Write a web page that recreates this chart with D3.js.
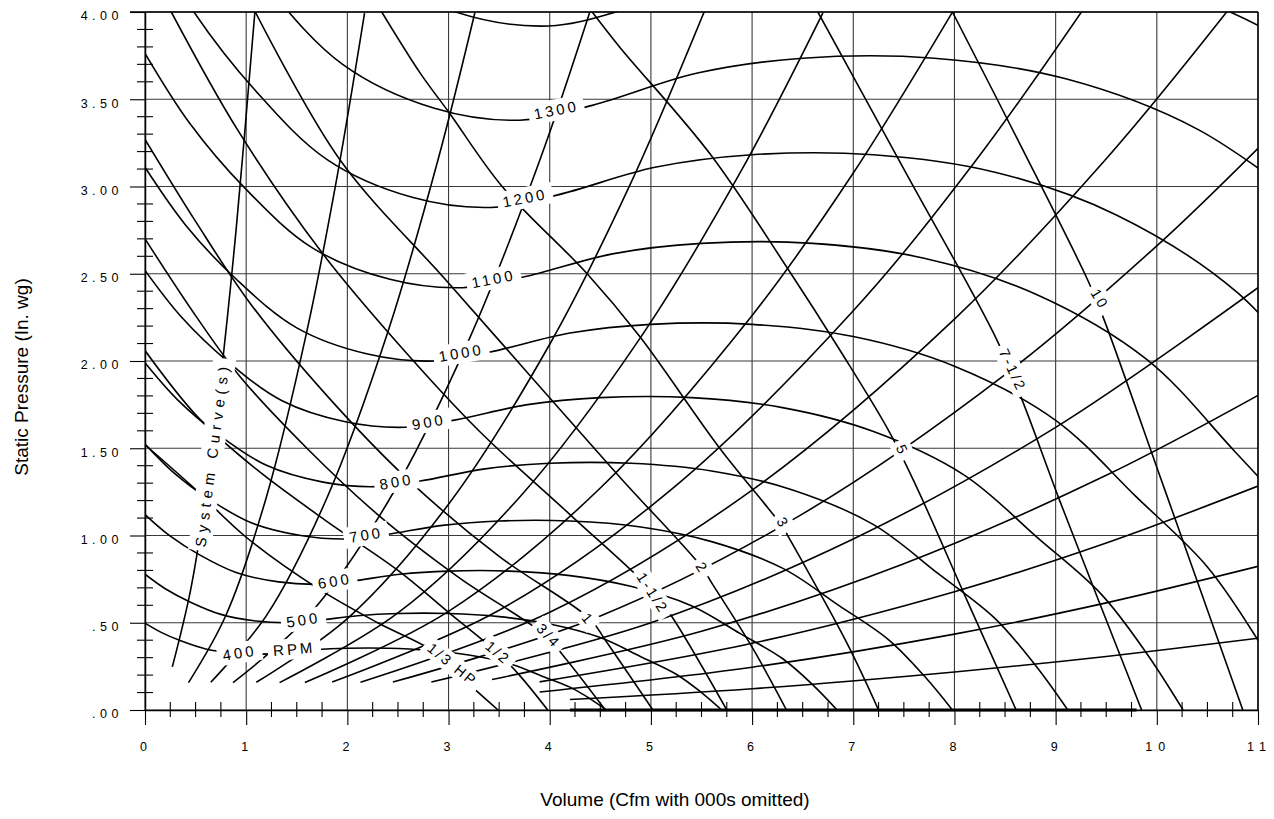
<!DOCTYPE html>
<html><head><meta charset="utf-8">
<script src="https://cdn.jsdelivr.net/npm/d3@7"></script>
<style>
body{margin:0;background:#fff;}
text{font-family:"Liberation Sans",Arial,Helvetica,sans-serif;fill:#000;}
</style></head><body>
<svg id="chart" width="1274" height="819"></svg>
<script>
// ---------------- DATA ----------------
const xTicks = [0,1,2,3,4,5,6,7,8,9,10,11];
const xTickLabels = ["0","1","2","3","4","5","6","7","8","9","10","11"];
const yTicks = [0,0.5,1,1.5,2,2.5,3,3.5,4];
const yTickLabels = [".00",".50","1.00","1.50","2.00","2.50","3.00","3.50","4.00"];

// Fan RPM curves: [volume (000 cfm), static pressure (in. wg)]
const rpm400 = [[0,0.498],[0.16,0.445],[0.36,0.395],[0.60,0.350],[0.88,0.326],[1.14,0.320],[1.36,0.328],[1.68,0.346],[2.00,0.354],[2.40,0.354],[2.80,0.342],[3.20,0.315],[3.60,0.266],[3.92,0.195],[4.20,0.131],[4.40,0.064],[4.56,0]];
const rpm500 = [[0,0.778],[0.2,0.695],[0.45,0.618],[0.75,0.548],[1.1,0.510],[1.425,0.500],[1.7,0.513],[2.1,0.540],[2.5,0.553],[3.0,0.553],[3.5,0.535],[4.0,0.493],[4.5,0.415],[4.9,0.305],[5.25,0.205],[5.5,0.100],[5.7,0]];
const rpm600 = [[0,1.120],[0.24,1.001],[0.54,0.889],[0.9,0.788],[1.32,0.734],[1.71,0.720],[2.04,0.738],[2.52,0.778],[3.0,0.796],[3.6,0.796],[4.2,0.770],[4.8,0.709],[5.4,0.598],[5.88,0.439],[6.3,0.295],[6.6,0.144],[6.84,0]];
const rpm700 = [[0,1.524],[0.28,1.362],[0.63,1.210],[1.05,1.073],[1.54,1.000],[2.0,0.980],[2.38,1.005],[2.94,1.058],[3.5,1.083],[4.2,1.083],[4.9,1.049],[5.6,0.965],[6.3,0.813],[6.86,0.598],[7.35,0.402],[7.7,0.196],[7.98,0]];
const rpm800 = [[0,1.990],[0.32,1.779],[0.72,1.581],[1.2,1.402],[1.76,1.306],[2.28,1.280],[2.72,1.312],[3.36,1.382],[4.0,1.414],[4.8,1.414],[5.6,1.370],[6.4,1.261],[7.2,1.062],[7.84,0.781],[8.4,0.525],[8.8,0.256],[9.12,0]];
const rpm900 = [[0,2.519],[0.36,2.252],[0.81,2.001],[1.35,1.774],[1.98,1.652],[2.565,1.620],[3.06,1.661],[3.78,1.750],[4.5,1.790],[5.4,1.790],[6.3,1.733],[7.2,1.596],[8.1,1.345],[8.82,0.988],[9.45,0.664],[9.9,0.324],[10.26,0]];
const rpm1000 = [[0,3.11],[0.4,2.78],[0.9,2.47],[1.5,2.19],[2.2,2.04],[2.85,2.00],[3.4,2.05],[4.2,2.16],[5.0,2.21],[6.0,2.21],[7.0,2.14],[8.0,1.97],[9.0,1.66],[9.8,1.22],[10.5,0.82],[11.0,0.40],[11.4,0]];
const rpm1100 = [[0,3.763],[0.44,3.364],[0.99,2.989],[1.65,2.650],[2.42,2.468],[3.135,2.420],[3.74,2.481],[4.62,2.614],[5.5,2.674],[6.6,2.674],[7.7,2.589],[8.8,2.384],[9.9,2.009],[10.78,1.476],[11.55,0.992]];
const rpm1200 = [[0,4.478],[0.48,4.003],[1.08,3.557],[1.8,3.154],[2.64,2.938],[3.42,2.880],[4.08,2.952],[5.04,3.110],[6.0,3.182],[7.2,3.182],[8.4,3.082],[9.6,2.837],[10.8,2.390],[11.76,1.757]];
const rpm1300 = [[0,5.256],[0.52,4.698],[1.17,4.174],[1.95,3.701],[2.86,3.448],[3.705,3.380],[4.42,3.465],[5.46,3.650],[6.5,3.735],[7.8,3.735],[9.1,3.617],[10.4,3.329],[11.7,2.805]];
const rpm1400 = [[0,6.096],[0.56,5.449],[1.26,4.841],[2.1,4.292],[3.08,3.998],[3.99,3.920],[4.76,4.018],[5.88,4.234],[7.0,4.332],[8.4,4.332],[9.8,4.194],[11.2,3.861],[12.6,3.254]];

// System curves
const sys1  = [[0.27,0.247],[0.45,0.686],[0.6,1.22],[0.75,1.91],[0.9,2.75],[1.086,4.0]];
const sys2  = [[0.43,0.157],[0.8,0.543],[1.2,1.221],[1.6,2.171],[1.9,3.061],[2.17,3.993]];
const sys3  = [[0.65,0.159],[1.2,0.541],[1.8,1.218],[2.4,2.166],[2.9,3.162],[3.26,3.996]];
const sys4  = [[0.87,0.157],[1.6,0.530],[2.4,1.192],[3.2,2.120],[3.9,3.148],[4.40,4.007]];
const sys5  = [[1.1,0.159],[2.0,0.524],[3.0,1.179],[4.0,2.096],[4.8,3.018],[5.53,4.006]];
const sys6  = [[1.33,0.157],[2.5,0.556],[3.7,1.218],[4.9,2.137],[5.9,3.098],[6.70,3.995]];
const sys7  = [[1.58,0.157],[3.0,0.565],[4.5,1.272],[6.0,2.261],[7.0,3.077],[7.98,3.999]];
const sys8  = [[1.85,0.160],[3.5,0.572],[5.2,1.263],[7.0,2.288],[8.2,3.140],[9.26,4.004]];
const sys9  = [[2.13,0.159],[4.0,0.560],[6.0,1.260],[8.0,2.240],[9.5,3.159],[10.69,4.0]];
const sys10 = [[2.45,0.160],[4.5,0.539],[6.5,1.124],[8.5,1.922],[10.0,2.66],[11.0,3.219]];
const sys11 = [[2.83,0.160],[5.0,0.5],[7.0,0.98],[9.0,1.62],[11.0,2.42]];
const sys12 = [[3.43,0.175],[5.5,0.451],[7.5,0.838],[9.5,1.345],[11.0,1.803]];
const sys13 = [[3.9,0.161],[6.0,0.382],[8.0,0.678],[9.5,0.957],[11.0,1.283]];
const sys14 = [[3.9,0.103],[6.0,0.245],[8.0,0.435],[9.5,0.614],[11.0,0.823]];
const sys15 = [[4.2,0.060],[6.0,0.122],[8.0,0.218],[9.5,0.307],[11.0,0.411]];

// Brake horsepower lines
const hp13  = [[0,1.52],[0.45,1.29],[1.0,0.99],[1.7,0.70],[2.3,0.50],[2.87,0.33],[3.2,0.15],[3.49,0]];
const hp12  = [[0,2.06],[0.52,1.68],[1.1,1.38],[1.8,1.08],[2.5,0.80],[3.0,0.56],[3.48,0.33],[3.7,0.20],[3.98,0]];
const hp34  = [[0,2.70],[0.5,2.26],[0.94,1.91],[1.6,1.50],[2.3,1.12],[3.1,0.76],[3.95,0.43],[4.15,0.30],[4.55,0]];
const hp1   = [[0,3.27],[0.5,2.80],[1.04,2.33],[1.8,1.80],[2.6,1.32],[3.5,0.88],[4.4,0.52],[4.55,0.40],[5.02,0]];
const hp112 = [[0.26,4.0],[0.92,3.32],[1.75,2.62],[2.5,2.10],[3.3,1.60],[4.2,1.12],[5.0,0.69],[5.19,0.55],[5.75,0]];
const hp2   = [[1.09,4.0],[1.93,3.15],[2.98,2.46],[3.8,1.92],[4.7,1.33],[5.5,0.82],[5.61,0.72],[6.0,0.36],[6.34,0]];
const hp3   = [[2.34,4.0],[2.72,3.65],[3.01,3.42],[3.53,3.0],[4.37,2.5],[4.89,2.14],[5.68,1.5],[6.3,1.05],[6.39,0.96],[6.94,0.38],[7.25,0]];
const hp5   = [[4.42,4.0],[4.69,3.8],[5.58,3.19],[6.34,2.54],[6.87,2.06],[7.36,1.59],[7.64,1.26],[8.1,0.66],[8.61,0]];
const hp712 = [[6.65,4.0],[7.5,3.1],[8.42,2.12],[8.68,1.76],[9.04,1.20],[9.85,0]];
const hp10  = [[7.98,4.0],[8.65,3.24],[9.32,2.46],[9.47,2.25],[10.08,1.26],[10.85,0]];

// Segment of the baseline drawn heavy (curves running along the axis)
const heavyBase = [[4.2,0],[9.8,0]];

// Labels
const rpmLabelText = ["400","RPM","500","600","700","800","900","1000","1100","1200","1300"];
const rpmLabelQ    = [0.92,1.46,1.55,1.86,2.17,2.47,2.79,3.11,3.43,3.74,4.05];
const rpmLabelP    = [0.327,0.35,0.516,0.739,1.003,1.307,1.65,2.046,2.47,2.934,3.438];
const rpmLabelRot  = [-9,-5,-9,-9,-10,-10,-10,-10,-11,-11,-11];

const hpLabelText = ["1/3  HP","1/2","3/4","1","1-1/2","2","3","5","7-1/2","10"];
const hpLabelQ    = [3.03,3.48,3.98,4.37,5.01,5.5,6.30,7.48,8.57,9.43];
const hpLabelP    = [0.264,0.332,0.43,0.527,0.676,0.82,1.077,1.496,1.954,2.36];
const hpLabelRot  = [39,40,47,50,57,57,60,65,65,59];

const sysLabelText = "System Curve(s)";
const sysLabelQ = 0.66, sysLabelP = 1.45, sysLabelRot = -82.5;

// ---------------- CHART ----------------
const svg = d3.select("#chart");
const x = d3.scaleLinear().domain([0,11]).range([145,1258]);
const y = d3.scaleLinear().domain([0,4]).range([710,12]);
const gridColor = "#3a3a3a";

// grid
svg.append("g").selectAll("line").data(yTicks).join("line")
  .attr("x1", x(0)).attr("x2", x(11))
  .attr("y1", d=>y(d)).attr("y2", d=>y(d))
  .attr("stroke", gridColor).attr("stroke-width", 1.1);
svg.append("g").selectAll("line").data(xTicks).join("line")
  .attr("x1", d=>x(d)).attr("x2", d=>x(d))
  .attr("y1", y(4)).attr("y2", y(0))
  .attr("stroke", gridColor).attr("stroke-width", 1.1);

// minor ticks
const yMinor = d3.range(0, 4.0001, 0.1).filter(v => Math.abs(v*2 - Math.round(v*2)) > 1e-6);
svg.append("g").selectAll("line").data(yMinor).join("line")
  .attr("x1", x(0)-8).attr("x2", x(0)+8)
  .attr("y1", d=>y(d)).attr("y2", d=>y(d))
  .attr("stroke","#000").attr("stroke-width",1.1);
const xMinor = d3.range(0, 11.0001, 0.25).filter(v => Math.abs(v - Math.round(v)) > 1e-6);
svg.append("g").selectAll("line").data(xMinor).join("line")
  .attr("x1", d=>x(d)).attr("x2", d=>x(d))
  .attr("y1", y(0)-8).attr("y2", y(0)+7)
  .attr("stroke","#000").attr("stroke-width",1.1);

// axes
const yAxis = svg.append("g").attr("transform",`translate(${x(0)},0)`)
  .call(d3.axisLeft(y).tickValues(yTicks).tickFormat((d,i)=>yTickLabels[i]).tickSize(15).tickSizeOuter(0).tickPadding(8));
yAxis.select(".domain").attr("stroke","#000").attr("stroke-width",1.5);
yAxis.selectAll(".tick line").attr("stroke","#000").attr("stroke-width",1.1);
yAxis.selectAll(".tick text").style("font-size","12.5px").style("letter-spacing","4.5px")
  .attr("dy","0.62em").attr("x",-22).attr("fill","#000");

const xAxis = svg.append("g").attr("transform",`translate(0,${y(0)})`)
  .call(d3.axisBottom(x).tickValues(xTicks).tickFormat((d,i)=>xTickLabels[i]).tickSize(15).tickSizeOuter(0).tickPadding(17));
xAxis.select(".domain").attr("stroke","#000").attr("stroke-width",1.5);
xAxis.selectAll(".tick line").attr("stroke","#000").attr("stroke-width",1.1);
xAxis.selectAll(".tick text").style("font-size","12.5px").style("letter-spacing","6px")
  .attr("dx","1px").attr("fill","#000");

// frame top & right
svg.append("line").attr("x1",x(0)-15).attr("x2",x(11)).attr("y1",y(4)).attr("y2",y(4)).attr("stroke","#000").attr("stroke-width",1.4);
svg.append("line").attr("x1",x(11)).attr("x2",x(11)).attr("y1",y(4)).attr("y2",y(0)).attr("stroke","#000").attr("stroke-width",1.4);

// clip
svg.append("defs").append("clipPath").attr("id","plotClip").append("rect")
  .attr("x", x(0)).attr("y", y(4)).attr("width", x(11)-x(0)).attr("height", y(0)-y(4));

const line = d3.line().x(d=>x(d[0])).y(d=>y(d[1])).curve(d3.curveCatmullRom.alpha(0.5));
const curves = svg.append("g").attr("clip-path","url(#plotClip)");

const rpmCurves = [rpm400,rpm500,rpm600,rpm700,rpm800,rpm900,rpm1000,rpm1100,rpm1200,rpm1300,rpm1400];
const sysCurves = [sys1,sys2,sys3,sys4,sys5,sys6,sys7,sys8,sys9,sys10,sys11,sys12,sys13,sys14,sys15];
const hpCurves  = [hp13,hp12,hp34,hp1,hp112,hp2,hp3,hp5,hp712,hp10];

[...sysCurves, ...hpCurves, ...rpmCurves].forEach(c => {
  curves.append("path").attr("d", line(c)).attr("fill","none")
    .attr("stroke","#000").attr("stroke-width",1.6).attr("stroke-linejoin","round");
});
svg.append("path").attr("d", d3.line().x(d=>x(d[0])).y(d=>y(d[1]))(heavyBase))
  .attr("stroke","#000").attr("stroke-width",3.2).attr("fill","none");

// labels with white knock-out boxes
function addLabel(q, p, str, rot, fs, ls, padX, padY){
  const g = svg.append("g").attr("transform",`translate(${x(q)},${y(p)}) rotate(${rot})`);
  const r = g.append("rect").attr("fill","#fff");
  const t = g.append("text").attr("text-anchor","middle").attr("dominant-baseline","central")
    .style("font-size", fs+"px").style("letter-spacing", ls+"px").attr("dx", ls/2).text(str);
  const bb = t.node().getBBox();
  r.attr("x", bb.x - padX + ls/2).attr("y", bb.y - padY).attr("width", bb.width - ls + 2*padX).attr("height", bb.height + 2*padY);
}
rpmLabelText.forEach((s,i)=> addLabel(rpmLabelQ[i], rpmLabelP[i], s, rpmLabelRot[i], 15, 3, 7, 2));
hpLabelText.forEach((s,i)=> addLabel(hpLabelQ[i], hpLabelP[i], s, hpLabelRot[i], 14.5, 2.5, 6, 2));
addLabel(sysLabelQ, sysLabelP, sysLabelText, sysLabelRot, 15, 5, 6, 3);

// axis titles
svg.append("text").attr("transform","translate(27.5,377) rotate(-90)")
  .attr("text-anchor","middle").style("font-size","19px").text("Static Pressure (In. wg)");
svg.append("text").attr("x", 675).attr("y", 806)
  .attr("text-anchor","middle").style("font-size","19px").text("Volume (Cfm with 000s omitted)");
</script>
</body></html>
